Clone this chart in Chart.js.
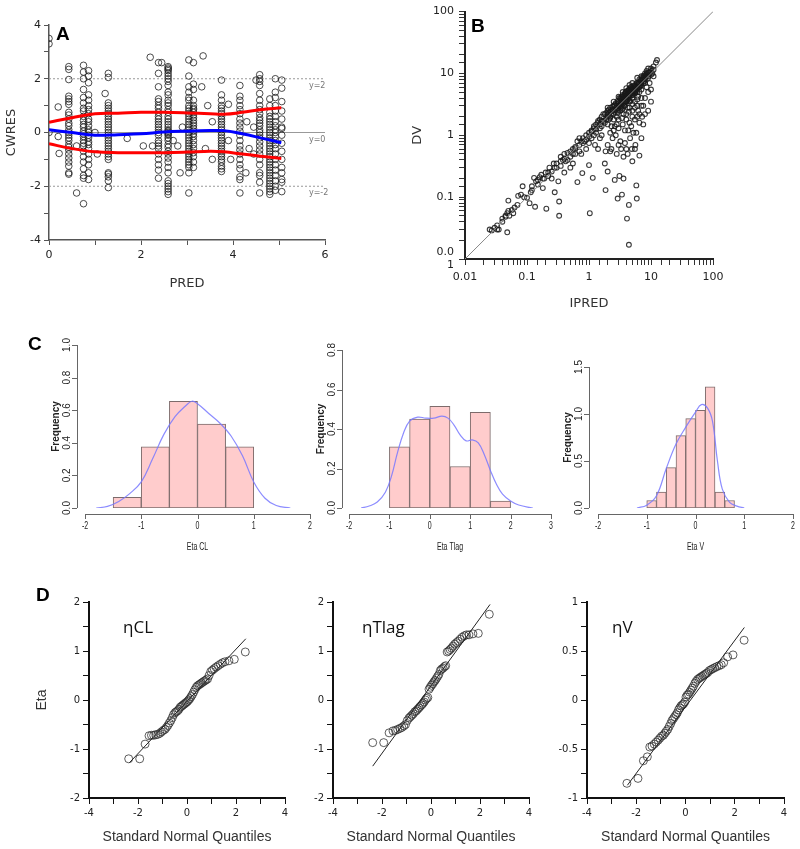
<!doctype html>
<html lang="en">
<head>
<meta charset="utf-8">
<title>PK model diagnostics</title>
<script src="https://cdn.jsdelivr.net/npm/chart.js"></script>
<style>
  body{margin:0;background:#fff;}
  #page{position:relative;width:800px;height:849px;overflow:hidden;background:#fff;}
  canvas{position:absolute;}
  .tag{position:absolute;font:bold 19px "Liberation Sans",Arial,sans-serif;color:#000;line-height:1;}
  .eta{position:absolute;font:17px "Open Sans",sans-serif;color:#111;line-height:1;}
</style>
<script>
// ---- A : CWRES vs PRED ----
const predCols = [0.43, 0.75, 0.86, 1.29, 2.38, 2.59, 3.04, 3.14, 3.75, 4.15, 4.58, 4.8, 4.92, 5.06];
const cwresByCol = [
  [2.45,2.35,1.97,1.35,1.25,1.15,1.05,0.75,0.65,0.5,0.35,0.25,0.1,0.0,-0.1,-0.2,-0.3,-0.45,-0.55,-0.65,-0.8,-0.95,-1.1,-1.25,-1.5,-1.55],
  [2.5,2.25,2.0,1.6,1.3,1.1,0.9,0.8,0.6,0.45,0.3,0.2,0.05,-0.05,-0.15,-0.3,-0.4,-0.5,-0.7,-0.9,-1.1,-1.35,-1.6,-1.7,-2.65],
  [2.3,2.1,1.85,1.4,1.2,1.0,0.85,0.7,0.5,0.4,0.25,0.1,0,-0.1,-0.2,-0.35,-0.45,-0.6,-0.8,-1.0,-1.2,-1.5,-1.75],
  [2.2,2.05,1.1,1.0,0.9,0.8,0.7,0.6,0.5,0.4,0.3,0.2,0.1,0,-0.1,-0.2,-0.3,-0.4,-0.5,-0.6,-0.7,-0.8,-0.9,-1.0,-1.5,-1.55,-1.65,-1.8,-2.05],
  [2.6,2.2,1.7,1.25,1.15,1.0,0.9,0.75,0.6,0.5,0.4,0.3,0.2,0.1,0,-0.1,-0.3,-0.4,-0.5,-0.6,-0.8,-1.0,-1.2,-1.4,-1.7],
  [2.45,2.4,2.35,2.3,2.2,2.1,2.0,1.9,1.75,1.5,1.4,1.2,1.1,1.0,0.85,0.75,0.6,0.5,0.4,0.3,0.2,0.1,0.05,0,-0.05,-0.1,-0.2,-0.3,-0.45,-0.55,-0.7,-0.8,-0.95,-1.1,-1.3,-1.5,-1.8,-1.9,-2.0,-2.1,-2.2,-2.3],
  [2.7,2.1,1.7,1.5,1.3,1.2,1.0,0.9,0.8,0.7,0.6,0.5,0.4,0.3,0.2,0.1,0,-0.1,-0.2,-0.3,-0.4,-0.5,-0.6,-0.7,-0.8,-0.9,-1.0,-1.1,-1.2,-1.3,-1.5,-2.25],
  [2.6,1.8,1.6,1.2,1.0,0.9,0.85,0.75,0.65,0.55,0.45,0.35,0.25,0.15,0.05,-0.05,-0.15,-0.3,-0.45,-0.6,-0.75,-0.9,-1.1,-1.3],
  [1.95,1.4,1.2,1.0,0.9,0.8,0.7,0.6,0.5,0.4,0.3,0.2,0.1,0,-0.1,-0.2,-0.3,-0.4,-0.5,-0.6,-0.7,-0.8,-0.9,-1.0,-1.1,-1.25,-1.35,-1.45],
  [1.75,1.35,1.2,1.0,0.85,0.7,0.5,0.35,0.2,0.05,-0.1,-0.3,-0.5,-0.65,-0.8,-1.0,-1.2,-1.35,-1.65,-1.75,-2.25],
  [2.15,2.0,1.9,1.75,1.45,1.2,1.0,0.85,0.7,0.55,0.45,0.35,0.25,0.1,0,-0.1,-0.2,-0.35,-0.5,-0.65,-0.8,-1.0,-1.2,-1.5,-1.6,-1.85,-2.25],
  [1.25,1.0,0.75,0.6,0.5,0.4,0.3,0.2,0.1,0,-0.1,-0.2,-0.3,-0.4,-0.5,-0.6,-0.7,-0.8,-0.9,-1.0,-1.1,-1.2,-1.3,-1.4,-1.5,-1.6,-1.7,-1.8,-1.9,-2.0,-2.1,-2.2,-2.3],
  [2.0,1.5,1.3,1.0,0.8,0.6,0.4,0.25,0.1,0,-0.15,-0.3,-0.45,-0.6,-0.8,-1.0,-1.2,-1.4,-1.6,-1.8,-2.0,-2.15],
  [1.95,1.65,1.15,0.8,0.5,0.2,0.15,-0.1,-0.4,-0.7,-1.0,-1.3,-1.5,-1.75,-1.85,-2.2]
];
const predExtra  = [0,0,0,0.2,0.2,0.22,0.6,0.6,1.0,1.05,1.22,1.7,2.05,2.2,2.25,2.45,2.7,2.8,2.85,2.9,3.35,3.32,3.45,3.4,3.55,3.55,3.9,3.9,3.95,4.3,4.35,4.28,4.45,4.5,4.45];
const cwresExtra = [3.5,3.3,0,0.95,-0.15,-0.78,-0.5,-2.25,0.0,-0.8,1.45,-0.22,-0.5,2.8,-0.5,2.6,-0.3,-0.5,-1.5,0.2,2.85,1.7,1.0,-0.6,-1.0,0.4,1.05,-0.3,-1.0,0.4,-0.6,-1.5,-0.8,1.95,0.2];
const smoothPred = [0, 0.5, 1.0, 1.5, 2.0, 2.5, 3.0, 3.5, 3.8, 4.2, 4.6, 5.05];
const smoothMid  = [0.1, 0.0, -0.1, -0.08, -0.05, 0.02, 0.05, 0.07, 0.07, -0.05, -0.2, -0.38];
const smoothUp   = [0.38, 0.55, 0.7, 0.72, 0.75, 0.75, 0.73, 0.7, 0.68, 0.75, 0.85, 0.92];
const smoothLow  = [-0.42, -0.6, -0.72, -0.75, -0.75, -0.75, -0.73, -0.7, -0.72, -0.8, -0.88, -0.97];

// ---- B : DV vs IPRED (pairs [IPRED, DV]) ----
const obsPairs = [
[0.025,0.030],[0.027,0.029],[0.030,0.032],[0.033,0.035],[0.035,0.030],[0.040,0.045],[0.045,0.050],[0.048,0.055],[0.050,0.060],[0.052,0.050],[0.057,0.062],[0.063,0.068],[0.050,0.088],[0.048,0.027],[0.072,0.105],[0.080,0.110],[0.085,0.150],[0.100,0.098],[0.110,0.080],[0.115,0.120],[0.120,0.150],[0.130,0.205],[0.135,0.070],[0.140,0.180],[0.150,0.190],[0.160,0.210],[0.170,0.230],[0.180,0.140],[0.190,0.200],[0.200,0.250],[0.205,0.065],[0.220,0.220],[0.230,0.300],[0.250,0.260],[0.250,0.200],[0.270,0.350],[0.280,0.120],[0.300,0.300],[0.320,0.180],[0.330,0.085],[0.330,0.050],[0.350,0.450],[0.350,0.320],[0.380,0.400],[0.400,0.250],[0.400,0.500],[0.420,0.380],[0.450,0.520],[0.500,0.450],[0.500,0.550],[0.500,0.300],[0.550,0.600],[0.550,0.350],[0.600,0.650],[0.600,0.500],[0.650,0.800],[0.650,0.175],[0.700,0.700],[0.700,0.900],[0.750,0.500],[0.800,0.900],[0.780,0.245],[0.850,0.800],[0.900,1.000],[0.900,0.600],[1.000,1.100],[1.000,0.750],[1.000,0.330],[1.030,0.055],[1.100,1.200],[1.100,0.900],[1.150,0.205],[1.200,1.400],[1.200,1.000],[1.250,0.700],[1.300,1.500],[1.300,1.100],[1.400,1.600],[1.400,0.600],[1.500,1.800],[1.500,1.300],[1.500,0.900],[1.600,2.000],[1.600,1.400],[1.700,1.700],[1.800,2.200],[1.800,0.350],[1.850,0.550],[1.850,0.130],[1.900,1.800],[2.000,2.500],[2.000,2.000],[2.000,1.500],[2.000,0.700],[2.000,0.260],[2.100,2.300],[2.200,2.800],[2.200,1.900],[2.300,0.600],[2.400,2.500],[2.500,3.000],[2.500,2.200],[2.500,1.200],[2.600,0.190],[2.700,3.300],[2.700,2.600],[2.800,0.500],[2.800,1.500],[2.900,0.095],[3.000,3.500],[3.000,3.000],[3.000,2.500],[3.100,0.220],[3.100,4.000],[3.200,3.200],[3.200,0.800],[3.300,2.800],[3.400,0.110],[3.400,3.800],[3.500,4.500],[3.500,3.500],[3.600,0.200],[3.600,2.200],[3.700,3.000],[3.800,4.200],[3.800,1.200],[3.900,5.000],[4.000,4.000],[4.000,3.500],[4.100,0.045],[4.000,0.600],[4.200,4.600],[4.200,2.800],[4.200,0.500],[4.400,0.075],[4.400,0.017],[4.400,5.500],[4.500,4.000],[4.500,1.600],[4.600,3.600],[4.800,5.000],[4.800,6.000],[5.000,4.500],[5.000,2.500],[5.000,0.380],[5.200,5.800],[5.500,6.500],[5.500,3.500],[5.500,0.600],[5.800,0.155],[5.900,0.095],[6.000,7.000],[6.000,5.000],[6.000,2.000],[6.200,4.200],[6.500,0.470],[6.500,8.000],[6.500,6.000],[7.000,9.000],[7.000,5.500],[7.000,0.900],[7.000,3.000],[7.500,7.000],[7.500,1.500],[8.000,10.000],[8.000,8.000],[8.000,2.200],[8.500,11.000],[8.500,6.000],[9.000,12.000],[9.000,9.000],[9.000,2.500],[9.500,7.000],[10.000,11.000],[10.000,5.500],[10.000,3.500],[11.000,13.000],[11.000,9.000],[12.000,15.000],[12.500,16.500],
[2.2,2.4],[2.4,2.9],[2.6,2.4],[2.8,3.0],[2.9,3.6],[3.1,3.1],[3.3,3.6],[3.4,3.0],[3.6,4.0],[3.7,4.4],[3.9,3.6],[4.1,5.2],[4.3,4.2],[4.5,5.0],[4.7,4.4],[4.9,5.5],[5.1,6.2],[5.3,5.0],[5.6,6.0],[5.8,5.4],[6.1,6.6],[6.4,7.2],[6.8,7.8],[7.2,8.5],[7.6,9.2],[8.2,9.5],[8.8,10.5],[3.0,4.2],[2.5,3.5],[2.0,2.8],[1.7,2.2],[4.5,6.5],[5.0,7.0],[3.5,5.0],[4.0,5.8],[6.0,8.5],[2.8,2.0],[3.2,2.5],[3.8,3.0],[4.5,3.5],[5.0,4.0],[5.5,4.8],[6.5,5.0],[7.0,6.5],[8.0,7.0],[3.0,1.8],[4.0,2.2],[5.0,3.2],[6.0,3.8],[4.5,2.8],[3.5,2.7],[2.5,1.8],[1.5,1.5],[1.2,1.3],[1.0,0.95],[0.9,0.85],[0.7,0.55],[0.45,0.4],[0.3,0.35],[2.3,1.4],[2.7,1.0],[3.5,1.5],[4.8,1.4],[5.5,1.8],[6.2,2.5],[7.2,2.0],[3.3,0.6],[4.6,0.9],[5.6,0.7],
[2.1,2.6],[2.3,2.2],[2.6,3.1],[2.9,2.7],[3.2,3.9],[3.3,3.3],[3.6,3.3],[3.8,4.7],[4.0,4.5],[4.2,3.8],[4.4,4.9],[4.6,5.6],[4.9,4.8],[5.2,5.3],[5.4,6.3],[5.7,5.2],[6.0,6.0],[6.3,6.8],[6.6,6.3],[7.0,7.5],[7.4,7.9],[7.8,8.8],[8.5,9.0],[9.2,10.3],[10.0,12.0],[10.5,10.0],[3.4,4.2],[3.9,4.1],[4.3,5.3],[5.3,5.7],[5.9,7.0],[4.7,6.0],[1.9,2.3],[1.4,1.7],[1.1,1.15],[0.75,0.8],[0.6,0.62],[0.4,0.42],[0.28,0.3],[0.18,0.2],[0.12,0.13],[0.07,0.075],[0.045,0.048],[0.033,0.03],
[1.6,1.0],[2.2,1.1],[2.6,1.4],[3.0,1.3],[3.4,1.9],[4.0,1.8],[4.4,2.4],[5.0,2.0],[5.5,2.8],[6.0,3.0],[6.5,2.2],[7.0,4.0],[7.5,3.0],[8.0,4.0],[9.0,5.0],[2.4,0.9],[3.8,0.75],[4.3,1.2],[5.2,1.1],[6.5,1.6],[3.0,0.7],[2.2,0.55],[4.9,0.6],[5.8,1.1],[3.6,0.45],
[2.0,2.2],[2.2,2.0],[2.4,2.6],[2.7,2.8],[3.0,3.3],[3.2,2.9],[3.5,3.9],[3.7,3.4],[4.0,4.2],[4.2,4.8],[4.5,4.5],[4.8,5.2],[5.0,5.5],[5.3,6.0],[5.5,5.5],[5.8,6.3],[6.2,6.0],[6.5,7.0],[7.0,7.0],[7.5,8.2],[8.0,8.6],[8.5,9.8],[9.5,10.5],[3.3,4.0],[3.9,4.9],[4.6,5.3],[4.1,3.6],[3.4,2.6],[2.9,2.3],[5.1,4.5],[5.6,5.0],[6.8,6.2],[7.8,7.5],[9.0,8.5],[10.0,9.5],[11.0,11.5],[1.3,1.25],[1.6,1.7],[1.8,1.6],[2.1,1.8],[0.8,0.75],[0.55,0.5],[0.35,0.38],[0.22,0.25],[0.15,0.16],[0.09,0.1],[0.06,0.055],[0.04,0.04]
];
const identityEnds = [0.01, 100];

// ---- C : histograms of eta ----
const binsCL   = [-1.5, -1, -0.5, 0, 0.5, 1];
const freqCL   = [0.065, 0.375, 0.655, 0.515, 0.375];
const densXCL  = [-1.8,-1.6,-1.4,-1.2,-1.0,-0.8,-0.6,-0.4,-0.2,-0.1,0,0.2,0.4,0.6,0.8,1.0,1.2,1.4,1.65];
const densYCL  = [0.0,0.01,0.04,0.09,0.16,0.3,0.45,0.56,0.63,0.655,0.64,0.58,0.52,0.44,0.32,0.16,0.06,0.015,0.0];
const binsTlag = [-1, -0.5, 0, 0.5, 1, 1.5, 2];
const freqTlag = [0.31, 0.45, 0.515, 0.21, 0.485, 0.035];
const densXTlag = [-1.7,-1.5,-1.3,-1.1,-0.95,-0.8,-0.65,-0.5,-0.3,-0.1,0.1,0.3,0.45,0.6,0.75,0.9,1.05,1.2,1.35,1.5,1.65,1.8,2.0,2.2,2.55];
const densYTlag = [0.0,0.01,0.03,0.08,0.16,0.28,0.38,0.44,0.46,0.455,0.455,0.465,0.455,0.42,0.37,0.34,0.345,0.33,0.27,0.19,0.12,0.07,0.035,0.015,0.0];
const binsV    = [-1, -0.8, -0.6, -0.4, -0.2, 0, 0.2, 0.4, 0.6, 0.8];
const freqV    = [0.08, 0.17, 0.43, 0.77, 0.95, 1.04, 1.29, 0.17, 0.08];
const densXV   = [-1.2,-1.0,-0.8,-0.6,-0.4,-0.2,0,0.12,0.25,0.35,0.45,0.55,0.7,0.85,1.0];
const densYV   = [0.0,0.03,0.13,0.42,0.68,0.86,1.02,1.1,1.06,0.92,0.5,0.2,0.06,0.02,0.0];

// ---- D : QQ plots, pairs [normal quantile, eta] ----
const qqCL = [[-2.38,-1.2],[-1.93,-1.2],[-1.71,-0.9],[-1.55,-0.73],[-1.45,-0.72],[-1.36,-0.72],[-1.27,-0.71],[-1.19,-0.7],[-1.11,-0.68],[-1.04,-0.65],[-0.97,-0.62],[-0.9,-0.6],[-0.84,-0.56],[-0.78,-0.52],[-0.72,-0.47],[-0.66,-0.42],[-0.6,-0.36],[-0.55,-0.3],[-0.49,-0.26],[-0.44,-0.24],[-0.38,-0.22],[-0.33,-0.19],[-0.28,-0.15],[-0.23,-0.13],[-0.18,-0.11],[-0.13,-0.09],[-0.08,-0.07],[-0.03,-0.05],[0.02,-0.03],[0.07,0.0],[0.12,0.03],[0.17,0.07],[0.22,0.11],[0.27,0.16],[0.32,0.21],[0.38,0.26],[0.43,0.29],[0.49,0.31],[0.55,0.33],[0.6,0.35],[0.66,0.37],[0.72,0.39],[0.78,0.41],[0.84,0.43],[0.9,0.5],[0.97,0.58],[1.04,0.61],[1.11,0.64],[1.19,0.67],[1.27,0.7],[1.36,0.73],[1.45,0.76],[1.55,0.78],[1.71,0.8],[1.93,0.83],[2.38,0.98]];
const qqTlag = [[-2.38,-0.87],[-1.93,-0.87],[-1.71,-0.67],[-1.55,-0.63],[-1.45,-0.62],[-1.36,-0.6],[-1.27,-0.58],[-1.19,-0.56],[-1.11,-0.53],[-1.04,-0.5],[-0.97,-0.42],[-0.9,-0.37],[-0.84,-0.34],[-0.78,-0.31],[-0.72,-0.28],[-0.66,-0.24],[-0.6,-0.22],[-0.55,-0.19],[-0.49,-0.16],[-0.44,-0.13],[-0.38,-0.1],[-0.33,-0.07],[-0.28,-0.04],[-0.23,0.0],[-0.18,0.03],[-0.13,0.05],[-0.08,0.22],[-0.03,0.26],[0.02,0.3],[0.07,0.33],[0.12,0.37],[0.17,0.4],[0.22,0.44],[0.27,0.48],[0.32,0.52],[0.38,0.6],[0.43,0.63],[0.49,0.65],[0.55,0.68],[0.6,0.7],[0.66,0.98],[0.72,1.0],[0.78,1.03],[0.84,1.06],[0.9,1.1],[0.97,1.14],[1.04,1.17],[1.11,1.2],[1.19,1.24],[1.27,1.28],[1.36,1.31],[1.45,1.33],[1.55,1.33],[1.71,1.35],[1.93,1.36],[2.38,1.75]];
const qqV = [[-2.38,-0.85],[-1.93,-0.8],[-1.71,-0.62],[-1.55,-0.58],[-1.45,-0.48],[-1.36,-0.47],[-1.27,-0.45],[-1.19,-0.43],[-1.11,-0.41],[-1.04,-0.39],[-0.97,-0.37],[-0.9,-0.36],[-0.84,-0.34],[-0.78,-0.32],[-0.72,-0.3],[-0.66,-0.27],[-0.6,-0.24],[-0.55,-0.21],[-0.49,-0.19],[-0.44,-0.17],[-0.38,-0.15],[-0.33,-0.13],[-0.28,-0.1],[-0.23,-0.08],[-0.18,-0.06],[-0.13,-0.05],[-0.08,-0.04],[-0.03,-0.02],[0.02,0.03],[0.07,0.05],[0.12,0.06],[0.17,0.08],[0.22,0.1],[0.27,0.12],[0.32,0.14],[0.38,0.17],[0.43,0.19],[0.49,0.21],[0.55,0.22],[0.6,0.23],[0.66,0.24],[0.72,0.25],[0.78,0.26],[0.84,0.27],[0.9,0.28],[0.97,0.3],[1.04,0.31],[1.11,0.32],[1.19,0.33],[1.27,0.34],[1.36,0.35],[1.45,0.36],[1.55,0.38],[1.71,0.44],[1.93,0.46],[2.38,0.61]];
const fitCL   = [[-2.35,-1.28],[2.4,1.25]];
const fitTlag = [[-2.38,-1.35],[2.41,1.95]];
const fitV    = [[-2.36,-0.87],[2.39,0.74]];
</script>
</head>
<body>
<div id="page">
  <canvas id="cA" width="340" height="300" style="left:0;top:0"></canvas>
  <canvas id="cB" width="400" height="320" style="left:400px;top:0"></canvas>
  <canvas id="cH1" width="290" height="225" style="left:40px;top:335px"></canvas>
  <canvas id="cH2" width="270" height="225" style="left:300px;top:335px"></canvas>
  <canvas id="cH3" width="250" height="225" style="left:550px;top:335px"></canvas>
  <canvas id="cQ1" width="270" height="284" style="left:30px;top:565px"></canvas>
  <canvas id="cQ2" width="260" height="284" style="left:280px;top:565px"></canvas>
  <canvas id="cQ3" width="260" height="284" style="left:540px;top:565px"></canvas>
  <div class="tag" style="left:56px;top:24px">A</div>
  <div class="tag" style="left:471px;top:16px">B</div>
  <div class="tag" style="left:28px;top:334px">C</div>
  <div class="tag" style="left:36px;top:585px">D</div>
  <div class="eta" style="left:123px;top:618px">ηCL</div>
  <div class="eta" style="left:362px;top:618px">ηTlag</div>
  <div class="eta" style="left:612px;top:618px">ηV</div>
</div>
<script>
Chart.defaults.animation = false;
Chart.defaults.responsive = false;
Chart.defaults.plugins.legend.display = false;
Chart.defaults.plugins.tooltip.enabled = false;
Chart.defaults.font.family = '"DejaVu Sans", Verdana, sans-serif';

// text notes at data coordinates (y=2 etc.)
const notesPlugin = {
  id: 'notes',
  afterDatasetsDraw(chart, args, o) {
    if (!o || !o.items) return;
    const {ctx, scales: {x, y}} = chart;
    ctx.save();
    o.items.forEach(it => {
      ctx.font = it.font; ctx.fillStyle = it.color;
      ctx.textAlign = 'left'; ctx.textBaseline = 'top';
      ctx.fillText(it.text, x.getPixelForValue(it.x), y.getPixelForValue(it.y) + (it.dy || 0));
    });
    ctx.restore();
  }
};
// R-style detached axes for the histograms
const rAxesPlugin = {
  id: 'rAxes',
  afterDraw(chart, args, o) {
    if (!o || !o.xTicks) return;
    const {ctx, chartArea: ca, scales: {x, y}} = chart;
    const ax = ca.bottom + 6, ay = ca.left - o.yGap;
    const xt = o.xTicks, yt = o.yTicks;
    ctx.save();
    ctx.strokeStyle = '#666'; ctx.lineWidth = 1;
    ctx.beginPath();
    ctx.moveTo(x.getPixelForValue(xt[0]), ax + 0.5);
    ctx.lineTo(x.getPixelForValue(xt[xt.length - 1]), ax + 0.5);
    xt.forEach(t => { const p = Math.round(x.getPixelForValue(t)) + 0.5; ctx.moveTo(p, ax); ctx.lineTo(p, ax + 5); });
    ctx.moveTo(ay + 0.5, y.getPixelForValue(yt[0]));
    ctx.lineTo(ay + 0.5, y.getPixelForValue(yt[yt.length - 1]));
    yt.forEach(t => { const p = Math.round(y.getPixelForValue(t)) + 0.5; ctx.moveTo(ay, p); ctx.lineTo(ay - 5, p); });
    ctx.stroke();
    ctx.fillStyle = '#222';
    ctx.font = '10px "Liberation Sans", Arial, sans-serif';
    ctx.textAlign = 'center'; ctx.textBaseline = 'middle';
    xt.forEach(t => {
      ctx.save(); ctx.translate(x.getPixelForValue(t), ax + 12); ctx.scale(0.7, 1);
      ctx.fillText(String(t), 0, 0); ctx.restore();
    });
    const mid = (x.getPixelForValue(xt[0]) + x.getPixelForValue(xt[xt.length - 1])) / 2;
    ctx.save(); ctx.translate(mid, ax + 33); ctx.scale(0.7, 1);
    ctx.fillText(o.xTitle, 0, 0); ctx.restore();
    yt.forEach(t => {
      ctx.save(); ctx.translate(ay - 10, y.getPixelForValue(t)); ctx.rotate(-Math.PI / 2);
      ctx.fillText(t.toFixed(1), 0, 0); ctx.restore();
    });
    ctx.font = 'bold 10px "Liberation Sans", Arial, sans-serif';
    ctx.save(); ctx.translate(ay - 21, (ca.top + ca.bottom) / 2); ctx.rotate(-Math.PI / 2);
    ctx.fillText('Frequency', 0, 0); ctx.restore();
    ctx.restore();
  }
};
Chart.register(notesPlugin, rAxesPlugin);

const xy = (xs, ys) => xs.map((v, i) => ({x: v, y: ys[i]}));
const pairs = arr => arr.map(p => ({x: p[0], y: p[1]}));

// ===== A =====
const cwresPts = [];
predCols.forEach((p, i) => cwresByCol[i].forEach(v => cwresPts.push({x: p, y: v})));
predExtra.forEach((p, i) => cwresPts.push({x: p, y: cwresExtra[i]}));
const refLine = (yv, dash) => ({type: 'line', data: [{x: 0, y: yv}, {x: 6, y: yv}], borderColor: '#999', borderWidth: 1, borderDash: dash, pointRadius: 0, order: 5});
const smoothLine = (ys, col) => ({type: 'line', data: xy(smoothPred, ys), borderColor: col, borderWidth: 3, pointRadius: 0, tension: 0.4, order: 1});
new Chart(document.getElementById('cA'), {
  type: 'scatter',
  data: {datasets: [
    refLine(2, [2, 2]), refLine(-2, [2, 2]), refLine(0, []),
    {data: cwresPts, pointRadius: 3.3, pointBackgroundColor: 'rgba(0,0,0,0)', pointBorderColor: 'rgba(30,30,30,0.8)', pointBorderWidth: 1, order: 3},
    smoothLine(smoothUp, '#ff0000'), smoothLine(smoothLow, '#ff0000'), smoothLine(smoothMid, '#0000ff')
  ]},
  options: {
    layout: {padding: {top: 25, right: 15, left: 0, bottom: 0}},
    plugins: {notes: {items: [
      {x: 5.65, y: 2, dy: 3, text: 'y=2', font: '8px "DejaVu Sans"', color: '#777'},
      {x: 5.65, y: 0, dy: 3, text: 'y=0', font: '8px "DejaVu Sans"', color: '#777'},
      {x: 5.65, y: -2, dy: 3, text: 'y=-2', font: '8px "DejaVu Sans"', color: '#777'}
    ]}},
    scales: {
      x: {type: 'linear', min: 0, max: 6,
        ticks: {stepSize: 1, autoSkip: false, maxRotation: 0, color: '#222', font: {size: 11}, padding: 4, callback: v => v % 2 === 0 ? v : ''},
        grid: {drawOnChartArea: false, tickLength: 5, color: '#555'},
        border: {color: '#555', width: 1.5},
        title: {display: true, text: 'PRED', color: '#333', font: {size: 13}, padding: {top: 0, bottom: 9}},
        afterFit: s => { s.height = 60; }},
      y: {min: -4, max: 4,
        ticks: {stepSize: 1, autoSkip: false, color: '#222', font: {size: 11}, padding: 3, callback: v => v % 2 === 0 ? v : ''},
        grid: {drawOnChartArea: false, tickLength: 5, color: '#555'},
        border: {color: '#555', width: 1.5},
        title: {display: true, text: 'CWRES', color: '#333', font: {size: 13}, padding: {top: 4, bottom: 0}},
        afterFit: s => { s.width = 49; }}
    }
  }
});

// ===== B =====
const isDecade = v => { const e = Math.log10(v); return Math.abs(e - Math.round(e)) < 1e-6; };
const decadeText = v => v >= 1 ? String(Math.round(v)) : String(Math.round(v * 100) / 100);
new Chart(document.getElementById('cB'), {
  type: 'scatter',
  data: {datasets: [
    {type: 'line', data: identityEnds.map(v => ({x: v, y: v})), borderColor: '#888', borderWidth: 1, pointRadius: 0, order: 1},
    {data: pairs(obsPairs), pointRadius: 2.4, pointBackgroundColor: 'rgba(0,0,0,0)', pointBorderColor: 'rgba(25,25,25,0.85)', pointBorderWidth: 1.1, order: 2}
  ]},
  options: {
    layout: {padding: {top: 11, right: 87, left: 0, bottom: 0}},
    scales: {
      x: {type: 'logarithmic', min: 0.01, max: 100,
        ticks: {autoSkip: false, maxRotation: 0, color: '#222', font: {size: 11}, padding: 6, callback: v => isDecade(v) ? decadeText(v) : ''},
        grid: {drawOnChartArea: false, tickLength: 6, color: '#333'},
        border: {color: '#222', width: 2},
        title: {display: true, text: 'IPRED', color: '#333', font: {size: 13}, padding: {top: 0, bottom: 9}},
        afterFit: s => { s.height = 61; }},
      y: {type: 'logarithmic', min: 0.01, max: 100,
        ticks: {autoSkip: false, color: '#222', font: {size: 11}, padding: 5,
          callback: v => !isDecade(v) ? '' : (Math.abs(v - 0.01) < 1e-9 ? ['0.0', '1'] : decadeText(v))},
        grid: {drawOnChartArea: false, tickLength: 6, color: '#333'},
        border: {color: '#222', width: 2},
        title: {display: true, text: 'DV', color: '#333', font: {size: 13}, padding: {top: 10, bottom: 0}},
        afterFit: s => { s.width = 65; }}
    }
  }
});

// ===== C =====
function histChart(id, bins, freq, dx, dy, xr, ymax, pad, axes) {
  const bars = freq.map((f, i) => ({x: (bins[i] + bins[i + 1]) / 2, y: f}));
  new Chart(document.getElementById(id), {
    type: 'bar',
    data: {datasets: [
      {type: 'line', data: xy(dx, dy), borderColor: 'rgba(120,120,255,0.85)', borderWidth: 1.2, pointRadius: 0, tension: 0.4, order: 1},
      {data: bars, backgroundColor: '#ffcccc', borderColor: '#7d6b6b', borderWidth: 1, borderSkipped: false, barPercentage: 1, categoryPercentage: 1, order: 2}
    ]},
    options: {
      layout: {padding: pad},
      plugins: {rAxes: axes},
      scales: {
        x: {type: 'linear', min: xr[0], max: xr[1], offset: false, display: false},
        y: {min: 0, max: ymax, display: false}
      }
    }
  });
}
histChart('cH1', binsCL, freqCL, densXCL, densYCL, [-2, 2], 1.0, {left: 45, right: 20, top: 10, bottom: 52},
  {xTicks: [-2, -1, 0, 1, 2], yTicks: [0, 0.2, 0.4, 0.6, 0.8, 1.0], yGap: 8, xTitle: 'Eta CL'});
histChart('cH2', binsTlag, freqTlag, densXTlag, densYTlag, [-2, 3], 0.8, {left: 49, right: 19, top: 15, bottom: 52},
  {xTicks: [-2, -1, 0, 1, 2, 3], yTicks: [0, 0.2, 0.4, 0.6, 0.8], yGap: 7, xTitle: 'Eta Tlag'});
histChart('cH3', binsV, freqV, densXV, densYV, [-2, 2], 1.5, {left: 48, right: 7, top: 32, bottom: 52},
  {xTicks: [-2, -1, 0, 1, 2], yTicks: [0, 0.5, 1.0, 1.5], yGap: 9, xTitle: 'Eta V'});

// ===== D =====
function qqChart(id, pts, fit, yr, yStep, yLabel, yWidth, padRight, yTitle) {
  new Chart(document.getElementById(id), {
    type: 'scatter',
    data: {datasets: [
      {type: 'line', data: pairs(fit), borderColor: '#222', borderWidth: 1, pointRadius: 0, order: 1},
      {data: pairs(pts), pointRadius: 4, pointBackgroundColor: 'rgba(0,0,0,0)', pointBorderColor: 'rgba(40,40,40,0.75)', pointBorderWidth: 1, order: 2}
    ]},
    options: {
      layout: {padding: {top: 37, right: padRight, left: 0, bottom: 0}},
      scales: {
        x: {type: 'linear', min: -4, max: 4,
          ticks: {stepSize: 1, autoSkip: false, maxRotation: 0, color: '#222', font: {size: 10}, padding: 3, callback: v => v % 2 === 0 ? v : ''},
          grid: {drawOnChartArea: false, tickLength: 6, color: '#111'},
          border: {color: '#111', width: 2},
          title: {display: true, text: 'Standard Normal Quantiles', color: '#333', font: {family: '"Liberation Sans", Arial, sans-serif', size: 14}, padding: {top: 0, bottom: 3}},
          afterFit: s => { s.height = 51; }},
        y: {min: yr[0], max: yr[1],
          ticks: {stepSize: yStep, autoSkip: false, color: '#222', font: {size: 10}, padding: 3, callback: yLabel},
          grid: {drawOnChartArea: false, tickLength: 6, color: '#111'},
          border: {color: '#111', width: 2},
          title: {display: !!yTitle, text: yTitle || '', color: '#333', font: {family: '"Liberation Sans", Arial, sans-serif', size: 14}, padding: {top: 4, bottom: 0}},
          afterFit: s => { s.width = yWidth; }}
      }
    }
  });
}
const intLabel = v => Number.isInteger(v) ? v : '';
const halfLabel = v => Number.isInteger(v * 2) ? v : '';
qqChart('cQ1', qqCL, fitCL, [-2, 2], 0.5, intLabel, 59, 15, 'Eta');
qqChart('cQ2', qqTlag, fitTlag, [-2, 2], 0.5, intLabel, 53, 11, '');
qqChart('cQ3', qqV, fitV, [-1, 1], 0.25, halfLabel, 47, 16, '');
</script>
</body>
</html>
